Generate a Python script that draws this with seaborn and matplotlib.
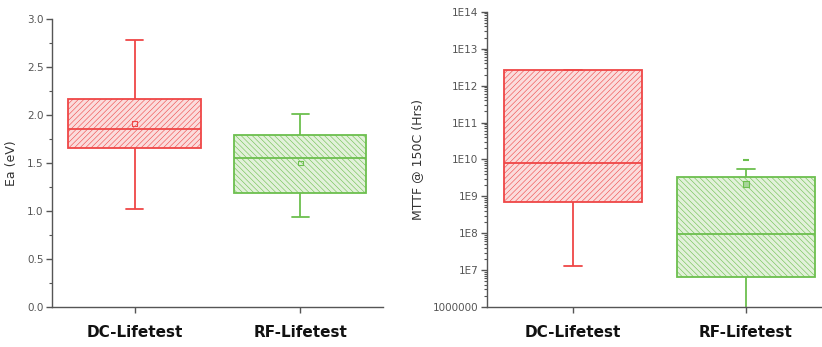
import numpy as np
import pandas as pd
import matplotlib
matplotlib.use("Agg")
import matplotlib.pyplot as plt
import seaborn as sns
from matplotlib.ticker import MultipleLocator, LogLocator, FixedLocator, FixedFormatter, NullFormatter

# ---------------- data ----------------
categories = ["DC-Lifetest", "RF-Lifetest"]
# box statistics: [whisker low, Q1, median, Q3, whisker high]
ea_dc = [1.02, 1.66, 1.85, 2.17, 2.78]
ea_rf = [0.94, 1.19, 1.55, 1.795, 2.01]
ea_mean = [1.91, 1.50]

mttf_dc = [1.3e7, 6.9e8, 8.0e9, 2.6e12, 2.6e12]
mttf_rf = [5e5, 6.6e6, 9.5e7, 3.3e9, 5.6e9]
mttf_rf_mean = 2.1e9
mttf_rf_max = 9.6e9

ea_ticks = [0.0, 0.5, 1.0, 1.5, 2.0, 2.5, 3.0]
mttf_ticks = [1e6, 1e7, 1e8, 1e9, 1e10, 1e11, 1e12, 1e13, 1e14]
mttf_tick_labels = ["1000000", "1E7", "1E8", "1E9", "1E10", "1E11", "1E12", "1E13", "1E14"]

edge_colors = ["#ef4646", "#6cbf4e"]
fill_colors = ["#fbdcdc", "#e2f1da"]
hatches = ["//////", "\\\\\\\\\\\\"]

# ---------------- style ----------------
sns.set_style("ticks")
plt.rcParams["hatch.linewidth"] = 0.4
plt.rcParams["font.family"] = ["DejaVu Sans"]

fig = plt.figure(figsize=(8.22, 3.47), dpi=100)
ax1 = fig.add_axes([0.063, 0.115, 0.403, 0.83])
ax2 = fig.add_axes([0.592, 0.115, 0.408, 0.851])
ax2.set_yscale("log")


def draw_boxes(ax, series):
    for i, (cat, vals) in enumerate(zip(categories, series)):
        df = pd.DataFrame({"cat": [cat] * len(vals), "val": vals})
        n0 = len(ax.patches)
        sns.boxplot(data=df, x="cat", y="val", order=categories, ax=ax,
                    color=fill_colors[i], linecolor=edge_colors[i], saturation=1,
                    width=0.8, whis=np.inf, showfliers=False, linewidth=1.3,
                    capwidths=0.1)
        for p in ax.patches[n0:]:
            p.set_hatch(hatches[i])
            p.set_edgecolor(edge_colors[i])


draw_boxes(ax1, [ea_dc, ea_rf])
draw_boxes(ax2, [mttf_dc, mttf_rf])

# mean markers
for i, m in enumerate(ea_mean):
    ax1.scatter([i], [m], marker="s", s=12, facecolors="none",
                edgecolors=edge_colors[i], linewidths=0.8, zorder=6)
ax2.scatter([1], [mttf_rf_mean], marker="s", s=14, facecolors="#a8d69a",
            edgecolors=edge_colors[1], linewidths=0.8, zorder=6)
ax2.scatter([1], [mttf_rf_max], marker="_", s=14,
            color=edge_colors[1], linewidths=1.5, zorder=6)

# axes formatting
for ax in (ax1, ax2):
    ax.set_xlim(-0.5, 1.5)
    ax.set_xlabel("")
    sns.despine(ax=ax)
    for s in ("left", "bottom"):
        ax.spines[s].set_color("#555555")
        ax.spines[s].set_linewidth(1.0)
    ax.tick_params(axis="x", length=4, width=1, color="#555555", pad=9)
    ax.tick_params(axis="y", which="major", length=4, width=1, color="#555555",
                   labelsize=7.5, labelcolor="#555555", pad=2)
    ax.tick_params(axis="y", which="minor", length=2, width=0.8, color="#555555")
    ax.set_xticks(range(len(categories)))
    ax.set_xticklabels(categories, fontsize=11, fontweight="bold", color="#111111")

ax2.set_xlim(-0.5, 1.44)

ax1.set_ylim(0, 3.0)
ax1.yaxis.set_major_locator(FixedLocator(ea_ticks))
ax1.yaxis.set_major_formatter(FixedFormatter([f"{t:.1f}" for t in ea_ticks]))
ax1.yaxis.set_minor_locator(MultipleLocator(0.25))
ax1.set_ylabel("Ea (eV)", fontsize=9, color="#333333", labelpad=6)

ax2.set_ylim(1e6, 1e14)
ax2.yaxis.set_major_locator(FixedLocator(mttf_ticks))
ax2.yaxis.set_major_formatter(FixedFormatter(mttf_tick_labels))
ax2.yaxis.set_minor_locator(LogLocator(base=10, subs=np.arange(2, 10)))
ax2.yaxis.set_minor_formatter(NullFormatter())
ax2.set_ylabel("MTTF @ 150C (Hrs)", fontsize=9, color="#333333", labelpad=6)

fig.savefig("out.png", dpi=100)
